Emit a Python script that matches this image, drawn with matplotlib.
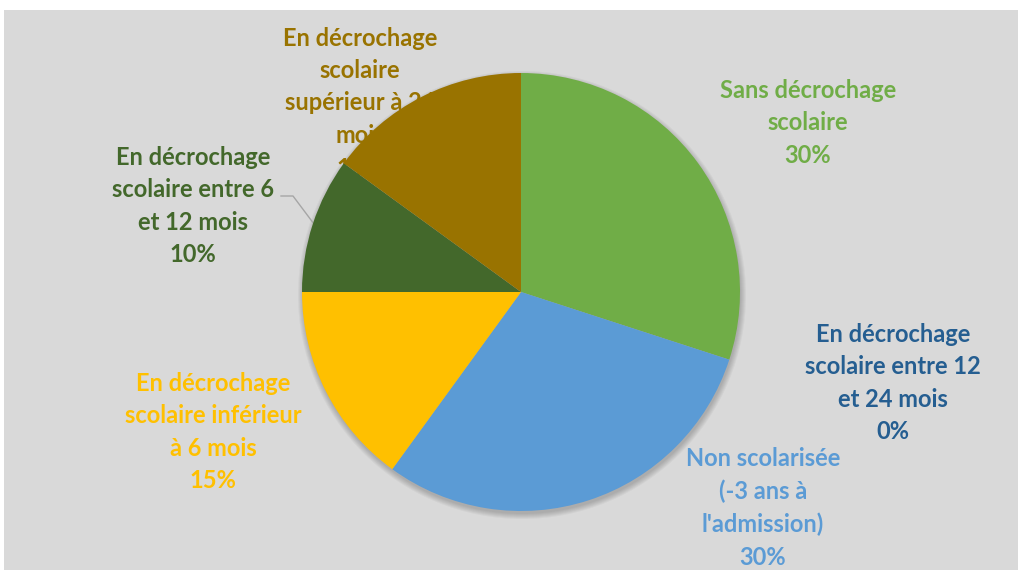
import matplotlib.pyplot as plt
from matplotlib.patches import Rectangle, Circle

# data
labels = [
    "Sans décrochage\nscolaire",
    "En décrochage\nscolaire entre 12\net 24 mois",
    "Non scolarisée\n(-3 ans à\nl'admission)",
    "En décrochage\nscolaire inférieur\nà 6 mois",
    "En décrochage\nscolaire entre 6\net 12 mois",
    "En décrochage\nscolaire\nsupérieur à 24\nmois",
]
values = [30, 0, 30, 15, 10, 15]
colors = ["#70AD47", "#255E91", "#5B9BD5", "#FFC000", "#43682B", "#997300"]

W, H = 1022, 570
fig = plt.figure(figsize=(W / 100, H / 100), dpi=100)
fig.patch.set_facecolor("white")
ax = fig.add_axes([0, 0, 1, 1])
ax.set_facecolor("none")

# grey chart area
ax.add_patch(Rectangle((4, 0), 1014, H - 10, facecolor="#D9D9D9",
                       edgecolor="none", zorder=0))

cx, cy, r = 521, H - 292, 219

# soft shadow
for k in range(6):
    ax.add_patch(Circle((cx + 1, cy - 3), r + k, facecolor="black",
                        edgecolor="none", alpha=0.035, zorder=0.2))

wedges, _ = ax.pie(values, colors=colors, startangle=90, counterclock=False,
                   center=(cx, cy), radius=r,
                   wedgeprops=dict(linewidth=0, zorder=1))

# label positions (pixel coords, centre of text block)
pos = [(808, 123), (893, 383), (763, 508), (213, 432), (193, 206), (360, 103)]
for lab, v, c, (x, y) in zip(labels, values, colors, pos):
    ax.text(x, H - y, f"{lab}\n{v}%", color=c, ha="center", va="center",
            fontsize=17, fontweight="bold", family="Lato",
            linespacing=1.5, zorder=0.5)

# leader line for the 10% label
ax.plot([281, 293, 314], [H - 196, H - 196, H - 224], color="#A6A6A6",
        linewidth=1, zorder=0.6)

ax.set_xlim(0, W)
ax.set_ylim(0, H)
ax.set_aspect("auto")
ax.axis("off")

fig.savefig("out.png", dpi=100)
